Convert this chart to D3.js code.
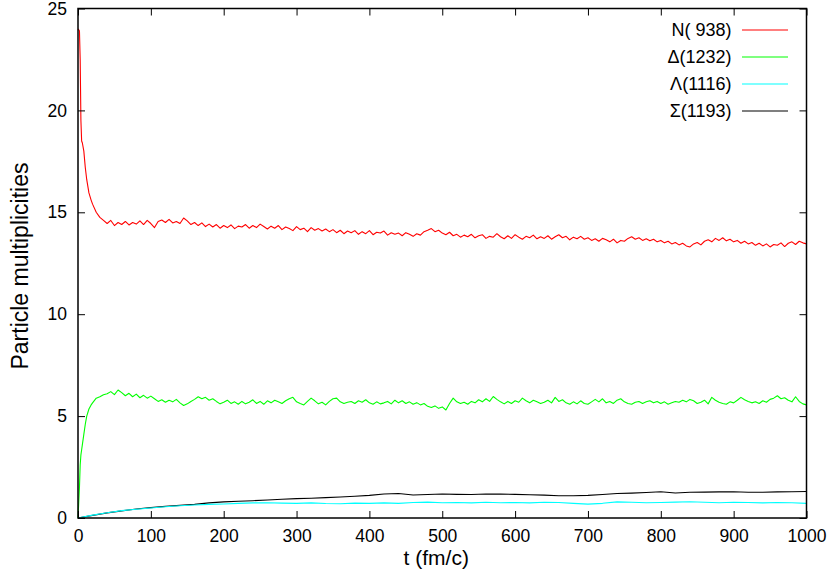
<!DOCTYPE html>
<html><head><meta charset="utf-8">
<script src="https://cdn.jsdelivr.net/npm/d3@7"></script>
<style>
html,body{margin:0;padding:0;background:#fff;}
svg{display:block;font-family:"Liberation Sans",Arial,sans-serif;}
</style></head>
<body>
<svg id="c" width="833" height="577"></svg>
<script>
// ---- data ----
const seriesNames = ["N( 938)", "\u0394(1232)", "\u039B(1116)", "\u03A3(1193)"];
const seriesColors = ["#ff0000", "#00ff00", "#00ffff", "#000000"];
const xTicks = [0,100,200,300,400,500,600,700,800,900,1000];
const yTicks = [0,5,10,15,20,25];

// time points for N and Delta: early detail then every 5 fm/c
const tEarly = [0,2,3,4,5,6,8,10,12,15,18,20,25,30,35];
const tLate = d3.range(40, 1001, 5);
const nEarly = [24.0,23.9,22.5,19.5,18.5,18.4,18.0,17.2,16.6,15.95,15.6,15.4,15.0,14.75,14.6];
const nLate = [
14.45,14.6,14.35,14.5,14.4,14.55,14.38,14.5,14.42,14.58,
14.4,14.6,14.45,14.25,14.55,14.62,14.5,14.65,14.48,14.55,
14.45,14.72,14.58,14.4,14.5,14.35,14.48,14.3,14.42,14.28,
14.4,14.22,14.35,14.25,14.38,14.2,14.32,14.28,14.4,14.22,
14.35,14.25,14.42,14.3,14.18,14.32,14.22,14.35,14.15,14.28,
14.2,14.1,14.3,14.15,14.22,14.05,14.25,14.12,14.2,14.08,
14.18,14.05,14.15,14.0,14.12,13.95,14.08,14.0,14.1,13.92,
14.05,13.95,14.1,13.9,14.02,13.98,14.08,13.88,14.0,13.92,
13.98,13.85,14.0,13.92,13.82,13.95,13.88,14.05,14.12,14.2,
14.05,14.12,13.98,13.9,14.02,13.85,13.92,13.78,13.88,13.8,
13.92,13.75,13.85,13.9,13.72,13.82,13.78,13.95,13.8,13.7,
13.85,13.72,13.9,13.78,13.68,13.82,13.75,13.88,13.7,13.8,
13.72,13.85,13.68,13.8,13.9,13.75,13.82,13.65,13.78,13.7,
13.82,13.68,13.75,13.62,13.7,13.58,13.72,13.65,13.55,13.68,
13.5,13.62,13.58,13.72,13.8,13.68,13.75,13.62,13.7,13.6,
13.68,13.55,13.62,13.5,13.58,13.45,13.52,13.4,13.48,13.35,
13.3,13.45,13.52,13.4,13.58,13.65,13.55,13.72,13.62,13.75,
13.6,13.68,13.55,13.62,13.48,13.58,13.45,13.52,13.38,13.48,
13.35,13.45,13.3,13.42,13.38,13.5,13.32,13.48,13.55,13.42,
13.58,13.5,13.45];
const dEarly = [0,1.5,2.6,3.1,3.35,3.6,4.1,4.6,5.0,5.35,5.55,5.65,5.88,5.95,6.05];
const dLate = [
6.1,6.2,6.05,6.28,6.15,6.0,6.12,5.95,6.08,5.9,
6.02,5.88,5.98,5.85,5.72,5.8,5.68,5.78,5.7,5.82,
5.65,5.52,5.6,5.72,5.82,5.95,5.85,5.92,5.78,5.85,
5.72,5.6,5.68,5.78,5.62,5.7,5.58,5.72,5.6,5.68,
5.8,5.62,5.72,5.58,5.75,5.65,5.78,5.7,5.62,5.75,
5.85,5.92,5.7,5.62,5.55,5.72,5.88,5.75,5.6,5.68,
5.55,5.72,5.85,5.88,5.7,5.62,5.68,5.72,5.62,5.75,
5.68,5.8,5.65,5.58,5.7,5.6,5.65,5.72,5.6,5.78,
5.65,5.75,5.62,5.7,5.58,5.66,5.55,5.62,5.48,5.42,
5.5,5.38,5.45,5.3,5.62,5.88,5.7,5.62,5.68,5.58,
5.72,5.65,5.8,5.7,5.85,5.72,5.96,5.82,5.7,5.6,
5.72,5.62,5.75,5.68,5.88,5.75,5.65,5.78,5.7,5.62,
5.68,5.78,5.65,5.92,5.72,5.8,5.65,5.58,5.7,5.6,
5.75,5.62,5.58,5.7,5.82,5.7,5.85,5.65,5.72,5.62,
5.78,5.85,5.7,5.62,5.58,5.68,5.72,5.62,5.7,5.75,
5.65,5.72,5.62,5.7,5.58,5.65,5.72,5.68,5.78,5.7,
5.82,5.75,5.62,5.68,5.78,5.6,5.92,5.78,5.68,5.62,
5.58,5.7,5.65,5.78,5.92,5.8,5.72,5.65,5.7,5.62,
5.75,5.68,5.82,5.88,6.0,5.85,5.9,5.78,5.7,5.95,
5.72,5.6,5.55];

// Lambda and Sigma: every 20 fm/c
const tSmooth = d3.range(0, 1001, 20);
const lambdaVals = [0,0.14,0.26,0.36,0.43,0.49,0.55,0.6,0.64,0.67,0.69,0.72,0.74,0.75,0.73,0.72,0.74,0.71,0.7,0.73,0.72,0.74,0.72,0.76,0.78,0.75,0.76,0.74,0.77,0.75,0.76,0.74,0.77,0.76,0.72,0.68,0.72,0.79,0.77,0.75,0.76,0.78,0.8,0.77,0.75,0.77,0.76,0.74,0.76,0.75,0.72];
const sigmaVals = [0,0.13,0.25,0.35,0.44,0.51,0.57,0.62,0.67,0.74,0.79,0.82,0.85,0.88,0.92,0.95,0.97,1.0,1.03,1.07,1.11,1.18,1.2,1.13,1.15,1.18,1.16,1.15,1.18,1.17,1.16,1.14,1.12,1.09,1.09,1.11,1.15,1.2,1.22,1.25,1.29,1.23,1.26,1.27,1.28,1.29,1.26,1.26,1.28,1.29,1.3];

// ---- chart ----
const W = 833, H = 577;
const m = {left:78, right:26.5, top:8.5, bottom:59};
const svg = d3.select("#c");
const x = d3.scaleLinear().domain([0,1000]).range([m.left, W - m.right]);
const y = d3.scaleLinear().domain([0,25]).range([H - m.bottom, m.top]);

const tAll = tEarly.concat(tLate);
const series = [
  {t: tAll, v: nEarly.concat(nLate)},
  {t: tAll, v: dEarly.concat(dLate)},
  {t: tSmooth, v: lambdaVals},
  {t: tSmooth, v: sigmaVals}
];

const line = d3.line().x(d => x(d[0])).y(d => y(d[1]));
const order = [0,1,3,2];
order.forEach(i => {
  const s = series[i];
  svg.append("path")
    .attr("d", line(s.t.map((t,k) => [t, s.v[k]])))
    .attr("fill","none").attr("stroke", seriesColors[i]).attr("stroke-width",1.1)
    .attr("stroke-linejoin","round");
});

const tickLen = 7;
const fmt = d3.format("d");
const gx = svg.append("g").attr("transform",`translate(0,${H - m.bottom})`)
  .call(d3.axisBottom(x).tickValues(xTicks).tickFormat(fmt).tickSizeInner(-tickLen).tickSizeOuter(0).tickPadding(12));
const gxt = svg.append("g").attr("transform",`translate(0,${m.top})`)
  .call(d3.axisTop(x).tickValues(xTicks).tickSizeInner(-tickLen).tickSizeOuter(0).tickFormat(""));
const gy = svg.append("g").attr("transform",`translate(${m.left},0)`)
  .call(d3.axisLeft(y).tickValues(yTicks).tickFormat(fmt).tickSizeInner(-tickLen).tickSizeOuter(0).tickPadding(11));
const gyr = svg.append("g").attr("transform",`translate(${W - m.right},0)`)
  .call(d3.axisRight(y).tickValues(yTicks).tickSizeInner(-tickLen).tickSizeOuter(0).tickFormat(""));
[gx,gxt,gy,gyr].forEach(g => {
  g.select(".domain").remove();
  g.selectAll("line").attr("stroke","#000").attr("stroke-width",1);
  g.selectAll("text").attr("font-family","'Liberation Sans',Arial,sans-serif").attr("font-size",17.5).attr("fill","#000");
});
svg.append("rect").attr("x",m.left).attr("y",m.top)
  .attr("width",W - m.left - m.right).attr("height",H - m.top - m.bottom)
  .attr("fill","none").attr("stroke","#000").attr("stroke-width",1.5);

svg.append("text").attr("x", x(500) - 6).attr("y", 565)
  .attr("text-anchor","middle").attr("font-size",21).text("t (fm/c)");
svg.append("text").attr("transform","translate(28,266) rotate(-90)")
  .attr("text-anchor","middle").attr("font-size",23).text("Particle multiplicities");

const legY = [30, 57, 84, 111];
seriesNames.forEach((name,i) => {
  svg.append("text").attr("x",731.5).attr("y",legY[i]).attr("dy","0.35em")
    .attr("text-anchor","end").attr("font-size",18).text(name);
  svg.append("line").attr("x1",742).attr("x2",788).attr("y1",legY[i]).attr("y2",legY[i])
    .attr("stroke",seriesColors[i]).attr("stroke-width",1.2);
});
</script>
</body></html>
